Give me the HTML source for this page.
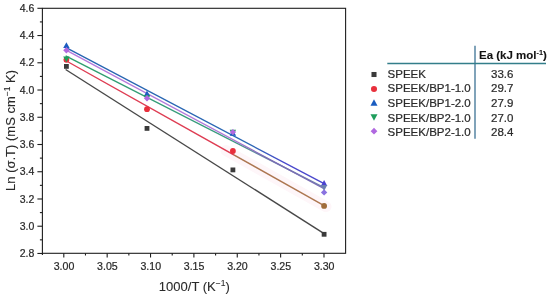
<!DOCTYPE html>
<html><head><meta charset="utf-8"><style>
html,body{margin:0;padding:0;background:#fff;width:550px;height:296px;overflow:hidden}
svg{display:block;filter:blur(0.3px)}
text{stroke:#2a2a2a;stroke-width:0.22px;paint-order:stroke}
.ttl{stroke-width:0.1px}
</style></head><body>
<svg width="550" height="296" viewBox="0 0 550 296">
<defs>
<linearGradient id="gred" gradientUnits="userSpaceOnUse" x1="0" y1="0" x2="550" y2="0"><stop offset="0.0000" stop-color="#de3c52"/><stop offset="0.4227" stop-color="#de3c52"/><stop offset="0.4273" stop-color="#ac7650"/><stop offset="0.7273" stop-color="#ac7650"/></linearGradient>
<linearGradient id="gblue" gradientUnits="userSpaceOnUse" x1="0" y1="0" x2="550" y2="0"><stop offset="0.0000" stop-color="#2562b0"/><stop offset="0.4545" stop-color="#2a68b4"/><stop offset="0.5182" stop-color="#4a48cc"/><stop offset="0.7273" stop-color="#4a48cc"/></linearGradient>
<linearGradient id="gpurple" gradientUnits="userSpaceOnUse" x1="0" y1="0" x2="550" y2="0"><stop offset="0.0000" stop-color="#b878e0"/><stop offset="0.4218" stop-color="#b07ad8"/><stop offset="0.4818" stop-color="#7a6ab4"/><stop offset="0.7273" stop-color="#7a78b8"/></linearGradient>
<linearGradient id="ggreen" gradientUnits="userSpaceOnUse" x1="0" y1="0" x2="550" y2="0"><stop offset="0.0000" stop-color="#27a065"/><stop offset="0.4218" stop-color="#3a9a80"/><stop offset="0.4818" stop-color="#6a88a8"/><stop offset="0.7273" stop-color="#7888b0"/></linearGradient>
</defs>
<rect x="42.4" y="8.3" width="303.20000000000005" height="245.0" fill="none" stroke="#1e1e1e" stroke-width="1.1"/>
<line x1="42.4" y1="253.3" x2="42.4" y2="255.10000000000002" stroke="#1e1e1e" stroke-width="1.1"/>
<line x1="37.4" y1="253.46" x2="42.4" y2="253.46" stroke="#1e1e1e" stroke-width="1.1"/>
<text x="34.4" y="257.16" text-anchor="end" font-size="10.5" font-family="Liberation Sans, sans-serif" fill="#2a2a2a">2.8</text>
<line x1="39.9" y1="239.84" x2="42.4" y2="239.84" stroke="#1e1e1e" stroke-width="1.1"/>
<line x1="37.4" y1="226.22" x2="42.4" y2="226.22" stroke="#1e1e1e" stroke-width="1.1"/>
<text x="34.4" y="229.92" text-anchor="end" font-size="10.5" font-family="Liberation Sans, sans-serif" fill="#2a2a2a">3.0</text>
<line x1="39.9" y1="212.60" x2="42.4" y2="212.60" stroke="#1e1e1e" stroke-width="1.1"/>
<line x1="37.4" y1="198.98" x2="42.4" y2="198.98" stroke="#1e1e1e" stroke-width="1.1"/>
<text x="34.4" y="202.68" text-anchor="end" font-size="10.5" font-family="Liberation Sans, sans-serif" fill="#2a2a2a">3.2</text>
<line x1="39.9" y1="185.36" x2="42.4" y2="185.36" stroke="#1e1e1e" stroke-width="1.1"/>
<line x1="37.4" y1="171.74" x2="42.4" y2="171.74" stroke="#1e1e1e" stroke-width="1.1"/>
<text x="34.4" y="175.44" text-anchor="end" font-size="10.5" font-family="Liberation Sans, sans-serif" fill="#2a2a2a">3.4</text>
<line x1="39.9" y1="158.12" x2="42.4" y2="158.12" stroke="#1e1e1e" stroke-width="1.1"/>
<line x1="37.4" y1="144.50" x2="42.4" y2="144.50" stroke="#1e1e1e" stroke-width="1.1"/>
<text x="34.4" y="148.20" text-anchor="end" font-size="10.5" font-family="Liberation Sans, sans-serif" fill="#2a2a2a">3.6</text>
<line x1="39.9" y1="130.88" x2="42.4" y2="130.88" stroke="#1e1e1e" stroke-width="1.1"/>
<line x1="37.4" y1="117.26" x2="42.4" y2="117.26" stroke="#1e1e1e" stroke-width="1.1"/>
<text x="34.4" y="120.96" text-anchor="end" font-size="10.5" font-family="Liberation Sans, sans-serif" fill="#2a2a2a">3.8</text>
<line x1="39.9" y1="103.64" x2="42.4" y2="103.64" stroke="#1e1e1e" stroke-width="1.1"/>
<line x1="37.4" y1="90.02" x2="42.4" y2="90.02" stroke="#1e1e1e" stroke-width="1.1"/>
<text x="34.4" y="93.72" text-anchor="end" font-size="10.5" font-family="Liberation Sans, sans-serif" fill="#2a2a2a">4.0</text>
<line x1="39.9" y1="76.40" x2="42.4" y2="76.40" stroke="#1e1e1e" stroke-width="1.1"/>
<line x1="37.4" y1="62.78" x2="42.4" y2="62.78" stroke="#1e1e1e" stroke-width="1.1"/>
<text x="34.4" y="66.48" text-anchor="end" font-size="10.5" font-family="Liberation Sans, sans-serif" fill="#2a2a2a">4.2</text>
<line x1="39.9" y1="49.16" x2="42.4" y2="49.16" stroke="#1e1e1e" stroke-width="1.1"/>
<line x1="37.4" y1="35.54" x2="42.4" y2="35.54" stroke="#1e1e1e" stroke-width="1.1"/>
<text x="34.4" y="39.24" text-anchor="end" font-size="10.5" font-family="Liberation Sans, sans-serif" fill="#2a2a2a">4.4</text>
<line x1="39.9" y1="21.92" x2="42.4" y2="21.92" stroke="#1e1e1e" stroke-width="1.1"/>
<line x1="37.4" y1="8.30" x2="42.4" y2="8.30" stroke="#1e1e1e" stroke-width="1.1"/>
<text x="34.4" y="12.00" text-anchor="end" font-size="10.5" font-family="Liberation Sans, sans-serif" fill="#2a2a2a">4.6</text>
<line x1="63.80" y1="253.3" x2="63.80" y2="257.5" stroke="#1e1e1e" stroke-width="1.1"/>
<text x="64.00" y="269.6" text-anchor="middle" font-size="10.6" font-family="Liberation Sans, sans-serif" fill="#2a2a2a">3.00</text>
<line x1="85.48" y1="253.3" x2="85.48" y2="255.5" stroke="#1e1e1e" stroke-width="1.1"/>
<line x1="107.17" y1="253.3" x2="107.17" y2="257.5" stroke="#1e1e1e" stroke-width="1.1"/>
<text x="107.37" y="269.6" text-anchor="middle" font-size="10.6" font-family="Liberation Sans, sans-serif" fill="#2a2a2a">3.05</text>
<line x1="128.85" y1="253.3" x2="128.85" y2="255.5" stroke="#1e1e1e" stroke-width="1.1"/>
<line x1="150.53" y1="253.3" x2="150.53" y2="257.5" stroke="#1e1e1e" stroke-width="1.1"/>
<text x="150.73" y="269.6" text-anchor="middle" font-size="10.6" font-family="Liberation Sans, sans-serif" fill="#2a2a2a">3.10</text>
<line x1="172.21" y1="253.3" x2="172.21" y2="255.5" stroke="#1e1e1e" stroke-width="1.1"/>
<line x1="193.89" y1="253.3" x2="193.89" y2="257.5" stroke="#1e1e1e" stroke-width="1.1"/>
<text x="194.09" y="269.6" text-anchor="middle" font-size="10.6" font-family="Liberation Sans, sans-serif" fill="#2a2a2a">3.15</text>
<line x1="215.58" y1="253.3" x2="215.58" y2="255.5" stroke="#1e1e1e" stroke-width="1.1"/>
<line x1="237.26" y1="253.3" x2="237.26" y2="257.5" stroke="#1e1e1e" stroke-width="1.1"/>
<text x="237.46" y="269.6" text-anchor="middle" font-size="10.6" font-family="Liberation Sans, sans-serif" fill="#2a2a2a">3.20</text>
<line x1="258.94" y1="253.3" x2="258.94" y2="255.5" stroke="#1e1e1e" stroke-width="1.1"/>
<line x1="280.62" y1="253.3" x2="280.62" y2="257.5" stroke="#1e1e1e" stroke-width="1.1"/>
<text x="280.82" y="269.6" text-anchor="middle" font-size="10.6" font-family="Liberation Sans, sans-serif" fill="#2a2a2a">3.25</text>
<line x1="302.31" y1="253.3" x2="302.31" y2="255.5" stroke="#1e1e1e" stroke-width="1.1"/>
<line x1="323.99" y1="253.3" x2="323.99" y2="257.5" stroke="#1e1e1e" stroke-width="1.1"/>
<text x="324.19" y="269.6" text-anchor="middle" font-size="10.6" font-family="Liberation Sans, sans-serif" fill="#2a2a2a">3.30</text>
<line x1="226" y1="150.48" x2="326" y2="206.58" stroke="#fef6f9" stroke-width="11" stroke-linecap="round"/>
<line x1="65.60" y1="69.49" x2="324.10" y2="233.55" stroke="#484848" stroke-width="1.4"/>
<line x1="65.60" y1="60.50" x2="324.10" y2="205.52" stroke="url(#gred)" stroke-width="1.4"/>
<line x1="65.60" y1="47.46" x2="324.10" y2="183.69" stroke="url(#gblue)" stroke-width="1.4"/>
<line x1="65.60" y1="55.84" x2="324.10" y2="187.67" stroke="url(#ggreen)" stroke-width="1.4"/>
<line x1="65.60" y1="49.90" x2="324.10" y2="188.57" stroke="url(#gpurple)" stroke-width="1.4"/>
<rect x="64.00" y="64.00" width="4.80" height="4.80" fill="#3a3a3a"/>
<rect x="144.60" y="126.00" width="4.80" height="4.80" fill="#3a3a3a"/>
<rect x="230.50" y="167.50" width="4.80" height="4.80" fill="#3a3a3a"/>
<rect x="321.70" y="231.90" width="4.80" height="4.80" fill="#3a3a3a"/>
<circle cx="66.40" cy="59.80" r="2.90" fill="#e8303c"/>
<circle cx="147.00" cy="109.20" r="2.90" fill="#e8303c"/>
<circle cx="232.90" cy="151.00" r="2.90" fill="#e8303c"/>
<circle cx="324.10" cy="205.90" r="2.90" fill="#a06c3a"/>
<polygon points="66.40,42.30 69.60,48.10 63.20,48.10" fill="#1a5cc0"/>
<polygon points="147.00,90.50 150.20,96.30 143.80,96.30" fill="#1a5cc0"/>
<polygon points="232.90,129.90 236.10,135.70 229.70,135.70" fill="#1a5cc0"/>
<polygon points="324.10,180.10 327.30,185.90 320.90,185.90" fill="#4a42d0"/>
<polygon points="66.40,62.20 69.60,56.40 63.20,56.40" fill="#1f9e5c"/>
<polygon points="147.00,101.10 150.20,95.30 143.80,95.30" fill="#1f9e5c"/>
<polygon points="232.90,135.60 236.10,129.80 229.70,129.80" fill="#1f9e5c"/>
<polygon points="324.10,190.90 327.30,185.10 320.90,185.10" fill="#6a80b0"/>
<polygon points="66.40,47.10 69.60,50.30 66.40,53.50 63.20,50.30" fill="#b068e0"/>
<polygon points="147.00,95.10 150.20,98.30 147.00,101.50 143.80,98.30" fill="#b068e0"/>
<polygon points="232.90,128.90 236.10,132.10 232.90,135.30 229.70,132.10" fill="#b068e0"/>
<polygon points="324.10,189.20 327.30,192.40 324.10,195.60 320.90,192.40" fill="#8a72e0"/>
<text class="ttl" x="194.3" y="290.7" text-anchor="middle" font-size="13" font-family="Liberation Sans, sans-serif" fill="#2a2a2a">1000/T (K<tspan dy="-5" font-size="8.5">−1</tspan><tspan dy="5">)</tspan></text>
<text class="ttl" transform="translate(14.8,130.4) rotate(-90)" text-anchor="middle" font-size="13" font-family="Liberation Sans, sans-serif" fill="#2a2a2a">Ln (σ.T) (mS cm<tspan dy="-5" font-size="8.5">−1</tspan><tspan dy="5"> K)</tspan></text>
<line x1="475" y1="45.8" x2="475" y2="138.7" stroke="#4a7c9c" stroke-width="1.4"/>
<line x1="387.3" y1="63.5" x2="546" y2="63.5" stroke="#337e8a" stroke-width="1.4"/>
<text x="479" y="59.3" font-size="11.5" font-weight="bold" font-family="Liberation Sans, sans-serif" fill="#111" style="stroke-width:0.1px">Ea (kJ mol<tspan dy="-4" font-size="7.3">-1</tspan><tspan dy="4">)</tspan></text>
<text x="387.6" y="77.50" font-size="11.5" font-family="Liberation Sans, sans-serif" fill="#2a2a2a">SPEEK</text>
<text x="491.0" y="77.50" font-size="11.5" font-family="Liberation Sans, sans-serif" fill="#2a2a2a">33.6</text>
<rect x="371.48" y="71.98" width="5.04" height="5.04" fill="#3a3a3a"/>
<text x="387.6" y="92.22" font-size="11.5" font-family="Liberation Sans, sans-serif" fill="#2a2a2a">SPEEK/BP1-1.0</text>
<text x="491.0" y="92.22" font-size="11.5" font-family="Liberation Sans, sans-serif" fill="#2a2a2a">29.7</text>
<circle cx="374.00" cy="89.00" r="3.04" fill="#e8303c"/>
<text x="387.6" y="106.94" font-size="11.5" font-family="Liberation Sans, sans-serif" fill="#2a2a2a">SPEEK/BP1-2.0</text>
<text x="491.0" y="106.94" font-size="11.5" font-family="Liberation Sans, sans-serif" fill="#2a2a2a">27.9</text>
<polygon points="374.00,99.27 377.52,105.65 370.48,105.65" fill="#1a5cc0"/>
<text x="387.6" y="121.66" font-size="11.5" font-family="Liberation Sans, sans-serif" fill="#2a2a2a">SPEEK/BP2-1.0</text>
<text x="491.0" y="121.66" font-size="11.5" font-family="Liberation Sans, sans-serif" fill="#2a2a2a">27.0</text>
<polygon points="374.00,120.63 377.52,114.25 370.48,114.25" fill="#1f9e5c"/>
<text x="387.6" y="136.38" font-size="11.5" font-family="Liberation Sans, sans-serif" fill="#2a2a2a">SPEEK/BP2-1.0</text>
<text x="491.0" y="136.38" font-size="11.5" font-family="Liberation Sans, sans-serif" fill="#2a2a2a">28.4</text>
<polygon points="374.00,127.84 377.36,131.20 374.00,134.56 370.64,131.20" fill="#b068e0"/>
</svg>
</body></html>
